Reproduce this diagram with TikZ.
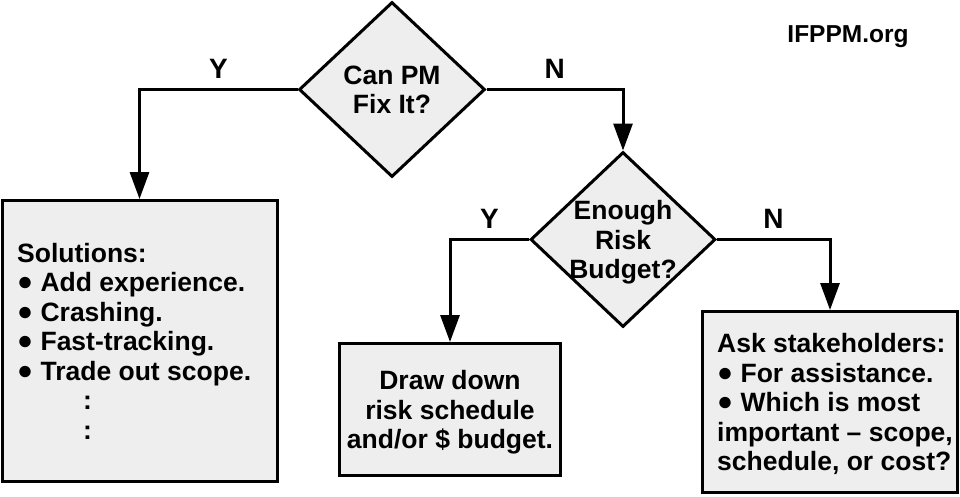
\documentclass[tikz,border=0pt]{standalone}
\usepackage{fontspec}
\setmainfont{Liberation Sans}
\usetikzlibrary{shapes.geometric,arrows.meta}
\definecolor{boxfill}{HTML}{EEEEEE}
\begin{document}
\begin{tikzpicture}[x=1pt,y=-1pt,
  every node/.style={font=\fontsize{26.5}{29.5}\selectfont\bfseries},
  dec/.style={diamond, draw, line width=3pt, fill=boxfill, inner sep=-10pt, align=center, text depth=0pt},
  blk/.style={rectangle, draw, line width=3pt, fill=boxfill, inner sep=0pt},
  txt/.style={inner sep=0pt, align=left, anchor=west, text depth=0pt},
  flow/.style={line width=3pt, line join=miter, -{Triangle[length=27pt,width=19pt]}},
  lbl/.style={inner sep=0pt, anchor=south, yshift=10pt, font=\fontsize{28}{30}\selectfont\bfseries}
]
\useasboundingbox (0,0) rectangle (960,496);

\node[dec, minimum width=186pt, minimum height=175pt] (d1) at (392,89.5) {Can PM\\Fix It?};
\node[dec, minimum width=185pt, minimum height=175pt] (d2) at (623,239.5) {Enough\\Risk\\Budget?};

\node[blk, minimum width=275pt, minimum height=281pt] (b1) at (139.5,341) {};
\node[txt] (t1) at (17,341) {Solutions:\\%
\raisebox{1pt}{●} Add experience.\\%
\raisebox{1pt}{●} Crashing.\\%
\raisebox{1pt}{●} Fast-tracking.\\%
\raisebox{1pt}{●} Trade out scope.\\%
\hspace*{66pt}:\\%
\hspace*{66pt}:};

\node[blk, minimum width=221pt, minimum height=132pt, align=center, text depth=0pt] (b2) at (450,409.5) {Draw down\\risk schedule\\and/or \$ budget.};

\node[blk, minimum width=255pt, minimum height=181pt] (b3) at (830,402) {};
\node[txt] (t3) at (717,402) {Ask stakeholders:\\%
\raisebox{1pt}{●} For assistance.\\%
\raisebox{1pt}{●} Which is most\\%
important – scope,\\%
schedule, or cost?};

\node[inner sep=0pt, font=\fontsize{24.5}{29}\selectfont\bfseries] (site) at (848,37) {IFPPM.org};

\draw[flow] (d1.west) -| node[lbl, pos=0.25] {Y} (b1.north);
\draw[flow] (d1.east) -| node[lbl, pos=0.25] {N} (d2.north);
\draw[flow] (d2.west) -| node[lbl, pos=0.25] {Y} (b2.north);
\draw[flow] (d2.east) -| node[lbl, pos=0.25] {N} (b3.north);
\end{tikzpicture}
\end{document}
